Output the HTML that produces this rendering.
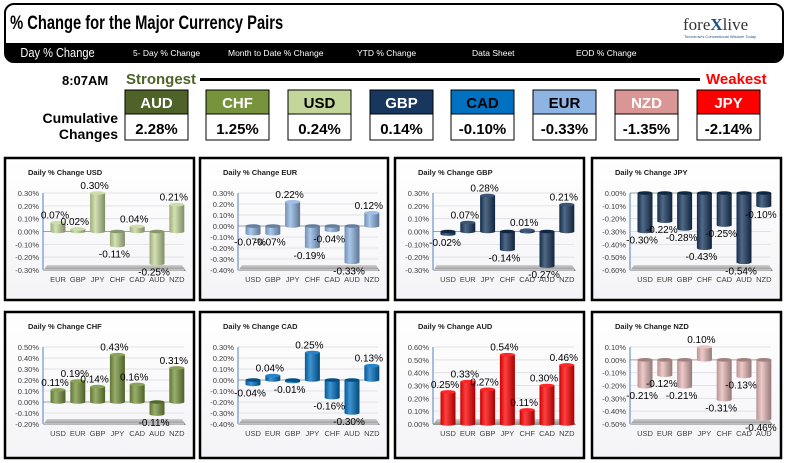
<!DOCTYPE html>
<html><head><meta charset="utf-8"><style>
body{margin:0;background:#fff;width:788px;height:463px;overflow:hidden;font-family:"Liberation Sans",sans-serif}
svg{display:block}
</style></head><body>
<svg id="s" width="788" height="463" xmlns="http://www.w3.org/2000/svg" font-family="Liberation Sans, sans-serif">
<defs>
<linearGradient id="floor" x1="0" y1="0" x2="0" y2="1"><stop offset="0" stop-color="#d0d0d0"/><stop offset="1" stop-color="#8a8a8a"/></linearGradient>
<linearGradient id="pbg" x1="0" y1="0" x2="0" y2="1"><stop offset="0" stop-color="#ffffff"/><stop offset="1" stop-color="#f4f4f8"/></linearGradient>
</defs>
<g>
<rect x="5" y="4" width="778" height="58" rx="9" fill="#fff" stroke="#000" stroke-width="2"/>
<path d="M6 43 H782 V53 Q782 61 774 61 H14 Q6 61 6 53 Z" fill="#000"/>
<text x="13" y="29" font-size="19" font-weight="bold" transform="scale(0.775,1)">% Change for the Major Currency Pairs</text>
<text x="683" y="30" font-size="17" font-family="Liberation Serif, serif" fill="#333">fore<tspan fill="#1a4f8b" font-weight="bold">X</tspan>live</text>
<text x="684" y="38" font-size="4" fill="#1a4f8b">Tomorrow's Conventional Wisdom Today</text>
<g fill="#fff">
<text x="24" y="57" font-size="13" transform="scale(0.85,1)">Day % Change</text>
<text x="133" y="56" font-size="8.5">5- Day % Change</text>
<text x="228" y="56" font-size="8.5">Month to Date % Change</text>
<text x="357" y="56" font-size="8.5">YTD % Change</text>
<text x="472" y="56" font-size="8.5">Data Sheet</text>
<text x="576" y="56" font-size="8.5">EOD % Change</text>
</g>
</g>
<g>
<text x="62" y="85" font-size="13" font-weight="bold">8:07AM</text>
<text x="126" y="84" font-size="15" font-weight="bold" fill="#4f6228">Strongest</text>
<rect x="200" y="78" width="500" height="3" fill="#000"/>
<text x="706" y="84" font-size="15" font-weight="bold" fill="#ff0000">Weakest</text>
<text x="118" y="123" font-size="14" font-weight="bold" text-anchor="end">Cumulative</text>
<text x="118" y="139" font-size="14" font-weight="bold" text-anchor="end">Changes</text>
<g id="boxes"></g>
</g>
<g id="charts"></g>
</svg>
<script>
const rankNames=["AUD","CHF","USD","GBP","CAD","EUR","NZD","JPY"];
const rankValues=["2.28%","1.25%","0.24%","0.14%","-0.10%","-0.33%","-1.35%","-2.14%"];
const rankColors=["#4f6228","#77933c","#c4d79b","#17375e","#0070c0","#8db4e2","#da9694","#ff0000"];
const rankTextColors=["#fff","#fff","#000","#fff","#000","#000","#fff","#fff"];

const chartTitles=["USD","EUR","GBP","JPY","CHF","CAD","AUD","NZD"];
const catsUSD=["EUR","GBP","JPY","CHF","CAD","AUD","NZD"];
const valsUSD=[0.07,0.02,0.30,-0.11,0.04,-0.25,0.21];
const catsEUR=["USD","GBP","JPY","CHF","CAD","AUD","NZD"];
const valsEUR=[-0.07,-0.07,0.22,-0.19,-0.04,-0.33,0.12];
const catsGBP=["USD","EUR","JPY","CHF","CAD","AUD","NZD"];
const valsGBP=[-0.02,0.07,0.28,-0.14,0.01,-0.27,0.21];
const catsJPY=["USD","EUR","GBP","CHF","CAD","AUD","NZD"];
const valsJPY=[-0.30,-0.22,-0.28,-0.43,-0.25,-0.54,-0.10];
const catsCHF=["USD","EUR","GBP","JPY","CAD","AUD","NZD"];
const valsCHF=[0.11,0.19,0.14,0.43,0.16,-0.11,0.31];
const catsCAD=["USD","EUR","GBP","JPY","CHF","AUD","NZD"];
const valsCAD=[-0.04,0.04,-0.01,0.25,-0.16,-0.30,0.13];
const catsAUD=["USD","EUR","GBP","JPY","CHF","CAD","NZD"];
const valsAUD=[0.25,0.33,0.27,0.54,0.11,0.30,0.46];
const catsNZD=["USD","EUR","GBP","JPY","CHF","CAD","AUD"];
const valsNZD=[-0.21,-0.12,-0.21,0.10,-0.31,-0.13,-0.46];
const axisMin=[-0.3,-0.4,-0.3,-0.6,-0.2,-0.4,0,-0.5];
const axisMax=[0.3,0.3,0.3,0,0.5,0.3,0.6,0.1];
const barColors=["#c4d79b","#8db4e2","#17375e","#17375e","#77933c","#0070c0","#ff0000","#e6b8b7"];

const NS="http://www.w3.org/2000/svg";
function mk(tag,attrs,parent,txt){const e=document.createElementNS(NS,tag);for(const k in attrs)e.setAttribute(k,attrs[k]);if(txt!=null)e.textContent=txt;parent.appendChild(e);return e;}
function shade(hex,f){let n=parseInt(hex.slice(1),16),r=n>>16,g=(n>>8)&255,b=n&255;const m=c=>Math.max(0,Math.min(255,Math.round(f<0?c*(1+f):c+(255-c)*f)));return "rgb("+m(r)+","+m(g)+","+m(b)+")";}

const boxes=document.getElementById('boxes');
const boxX=[125,206,288,370,451,533,615,697];
rankNames.forEach((n,i)=>{
  const g=mk('g',{},boxes);
  
  
  const r1=mk('rect',{x:boxX[i],y:90,width:63,height:24,fill:rankColors[i],stroke:'#000','stroke-width':1},g);
  
  const r2=mk('rect',{x:boxX[i],y:114,width:63,height:26,fill:'#fff',stroke:'#000','stroke-width':1},g);
  
  const t1=mk('text',{x:boxX[i]+31.5,y:108,'font-size':15,'font-weight':'bold','text-anchor':'middle',fill:rankTextColors[i]},g,n);
  
  const t2=mk('text',{x:boxX[i]+31.5,y:134,'font-size':15,'font-weight':'bold','text-anchor':'middle'},g,rankValues[i]);
  
});

const allCats=[catsUSD,catsEUR,catsGBP,catsJPY,catsCHF,catsCAD,catsAUD,catsNZD];
const allVals=[valsUSD,valsEUR,valsGBP,valsJPY,valsCHF,valsCAD,valsAUD,valsNZD];
const panelX=[5,200,395,592],panelW=[189,188,189,189],panelY=[158,312],panelH=[142,146];
const charts=document.getElementById('charts');
chartTitles.forEach((ttl,ci)=>{
  const px=panelX[ci%4],py=panelY[Math.floor(ci/4)],pw=panelW[ci%4],ph=panelH[Math.floor(ci/4)];
  const g=mk('g',{},charts);
  
  
  const bg=mk('rect',{x:px,y:py,width:pw,height:ph,fill:'url(#pbg)',stroke:'#000','stroke-width':2.5},g);
  
  const tt=mk('text',{x:px+23,y:py+17,'font-size':7.5,'font-weight':'bold',fill:'#222'},g,'Daily % Change '+ttl);
  
  const mn=axisMin[ci],mx=axisMax[ci],top=py+35,bot=py+112,ax=px+38;
  const y=v=>top+(mx-v)/(mx-mn)*(bot-top);
  const xc=i=>px+53+i*19.8;
  const fl=mk('polygon',{points:`${ax},${bot+1} ${ax+4},${bot-5} ${px+pw-12},${bot-5} ${px+pw-8},${bot+1}`,fill:'url(#floor)'},g);
  
  const nt=Math.round((mx-mn)/0.1);
  for(let k=0;k<=nt;k++){
    const v=mn+k*0.1,yy=y(v);
    const gl=mk('line',{x1:ax,x2:px+pw-10,y1:yy,y2:yy,stroke:Math.abs(v)<1e-9?'#a0a0a0':'#e2e2e6','stroke-width':1},g);
    
    const lb=mk('text',{x:ax-4,y:yy+3,'font-size':7.5,fill:'#404040','text-anchor':'end'},g,(v).toFixed(2).replace('-0.00','0.00')+'%');
    
  }
  const axl=mk('line',{x1:ax,x2:ax,y1:top,y2:bot,stroke:'#4f81bd','stroke-width':1},g);
  
  const id='bg'+ci;
  const lg=mk('linearGradient',{id:id,x1:0,y1:0,x2:1,y2:0},document.querySelector('defs'));
  const c=barColors[ci];
  mk('stop',{offset:0,'stop-color':shade(c,-0.2)},lg);mk('stop',{offset:0.35,'stop-color':shade(c,0.25)},lg);mk('stop',{offset:1,'stop-color':shade(c,-0.35)},lg);
  const zero=y(Math.max(mn,Math.min(mx,0)));
  allVals[ci].forEach((v,i)=>{
    const cx=xc(i),yv=y(v),y0=Math.min(zero,yv),h=Math.max(1.5,Math.abs(yv-zero));
    const be=mk('ellipse',{cx:cx,cy:y0+h,rx:7.5,ry:1.8,fill:'url(#'+id+')'},g);
    
    const b=mk('rect',{x:cx-7.5,y:y0,width:15,height:h,fill:'url(#'+id+')'},g);
    
    const cap=mk('ellipse',{cx:cx,cy:y0,rx:7.5,ry:1.8,fill:shade(c,v>=0?0.15:-0.3)},g);
    
    const ly=v>=0?yv-4:yv+12;
    const vl=mk('text',{x:cx-3,y:ly,'font-size':10,fill:'#000','text-anchor':'middle'},g,(v).toFixed(2)+'%');
    
    const cl=mk('text',{x:cx,y:py+124,'font-size':7.5,fill:'#404040','text-anchor':'middle'},g,allCats[ci][i]);
    
  });
});
</script>
</body></html>
